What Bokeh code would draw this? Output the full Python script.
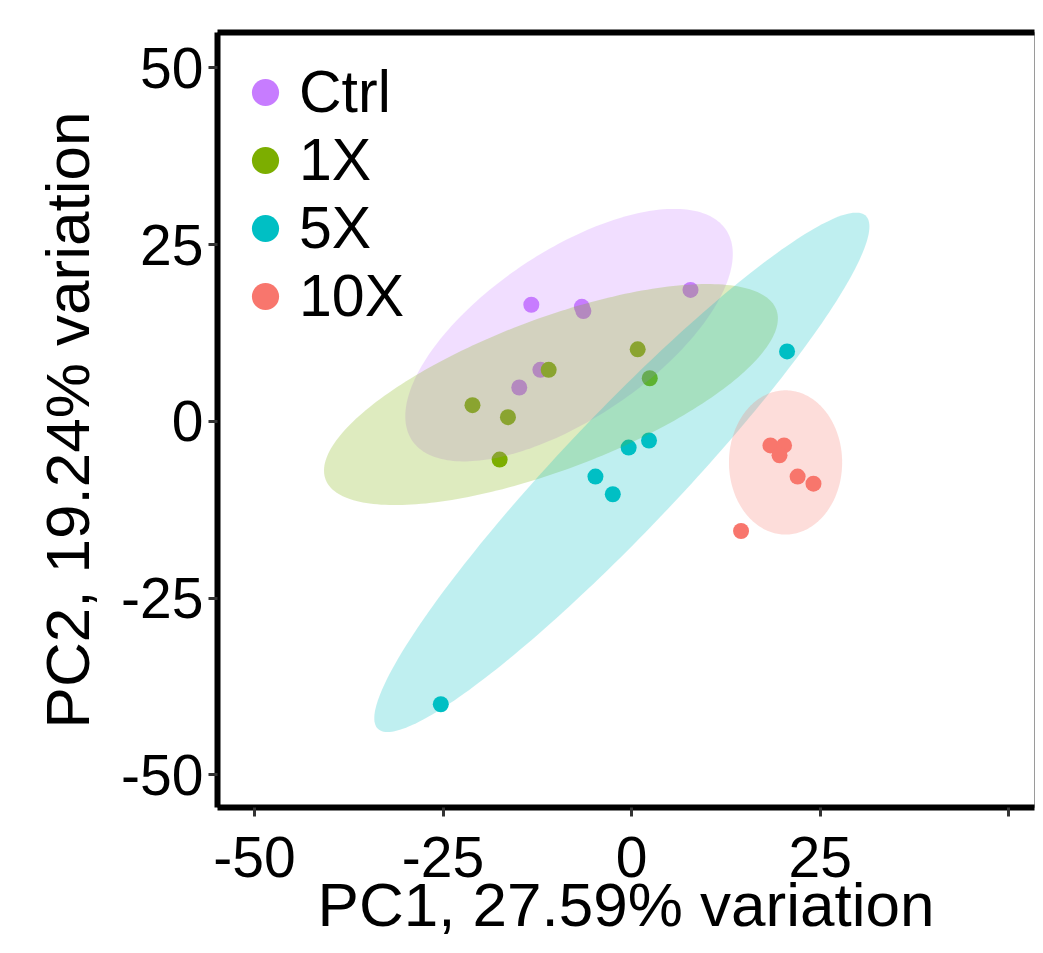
import numpy as np
from bokeh.plotting import figure
from bokeh.models import Range1d, FixedTicker, LinearAxis, Legend, LegendItem
from bokeh.embed import file_html
from bokeh.resources import INLINE

# ---------------- data ----------------
groups = ["Ctrl", "1X", "5X", "10X"]
colors = ["#C77CFF", "#7CAE00", "#00BFC4", "#F8766D"]

ctrl_pc1 = [-13.3, -6.4, -6.6, 7.8, -12.1, -14.9]
ctrl_pc2 = [16.5, 15.6, 16.2, 18.6, 7.3, 4.8]
x1_pc1 = [-21.1, -16.4, -11.0, 0.8, 2.4, -17.5]
x1_pc2 = [2.3, 0.6, 7.3, 10.2, 6.1, -5.4]
x5_pc1 = [20.6, -0.4, 2.3, -4.8, -2.5, -25.3]
x5_pc2 = [9.9, -3.7, -2.7, -7.8, -10.3, -40.0]
x10_pc1 = [18.4, 20.2, 19.6, 22.0, 24.1, 14.5]
x10_pc2 = [-3.4, -3.4, -4.8, -7.8, -8.8, -15.5]

# confidence ellipses (centre, semi-axes, angle in degrees) per group
ell_cx = [-8.3, -10.7, -1.3, 20.4]
ell_cy = [12.2, 3.8, -7.2, -5.8]
ell_a = [25.6, 32.2, 48.6, 10.2]
ell_b = [11.6, 10.6, 8.0, 7.5]
ell_angle = [36.5, 22.2, 48.4, 90.0]

ticks = [-50, -25, 0, 25, 50]
x_tick_labels = ["-50", "-25", "0", "25", ""]
y_tick_labels = ["-50", "-25", "0", "25", "50"]
x_title = "PC1, 27.59% variation"
y_title = "PC2, 19.24% variation"

pcs = [(ctrl_pc1, ctrl_pc2), (x1_pc1, x1_pc2), (x5_pc1, x5_pc2), (x10_pc1, x10_pc2)]

FONT = "Liberation Sans"

p = figure(width=1035, height=945,
           x_range=Range1d(-54.9, 53.4), y_range=Range1d(-54.6, 55.0),
           output_backend="svg", toolbar_location=None,
           min_border_left=217, min_border_right=1,
           min_border_top=32, min_border_bottom=138)
p.background_fill_color = "white"
p.border_fill_color = "white"
p.grid.visible = False
p.outline_line_color = "#9a9a9a"
p.outline_line_width = 1

# points first (ellipses drawn on top of them)
point_renderers = []
for (xs, ys), col in zip(pcs, colors):
    r = p.scatter(xs, ys, size=16, fill_color=col, line_color=None)
    point_renderers.append(r)

t = np.linspace(0, 2 * np.pi, 240)
for cx, cy, a, b, ang, col in zip(ell_cx, ell_cy, ell_a, ell_b, ell_angle, colors):
    th = np.deg2rad(ang)
    ex = cx + a * np.cos(t) * np.cos(th) - b * np.sin(t) * np.sin(th)
    ey = cy + a * np.cos(t) * np.sin(th) + b * np.sin(t) * np.cos(th)
    p.patch(ex, ey, fill_color=col, fill_alpha=0.25, line_color=None)

# axes
for ax in (p.xaxis[0], p.yaxis[0]):
    ax.ticker = FixedTicker(ticks=ticks)
    ax.axis_line_width = 6
    ax.axis_line_color = "black"
    ax.major_tick_out = 9
    ax.major_tick_in = 0
    ax.major_tick_line_width = 3
    ax.major_tick_line_color = "#333333"
    ax.minor_tick_line_color = None
    ax.major_label_text_font = FONT
    ax.major_label_text_font_size = "57px"
    ax.major_label_text_color = "black"
    ax.axis_label_text_font = FONT
    ax.axis_label_text_font_size = "62px"
    ax.axis_label_text_font_style = "normal"
    ax.axis_label_text_color = "black"

p.xaxis[0].major_label_overrides = {tk: lb for tk, lb in zip(ticks, x_tick_labels)}
p.yaxis[0].major_label_overrides = {tk: lb for tk, lb in zip(ticks, y_tick_labels)}
p.xaxis[0].axis_label = x_title
p.yaxis[0].axis_label = y_title
p.xaxis[0].major_label_standoff = 20
p.yaxis[0].major_label_standoff = 5
p.xaxis[0].axis_label_standoff = -10
p.yaxis[0].axis_label_standoff = 16

top_axis = LinearAxis(ticker=FixedTicker(ticks=[]), axis_line_width=6,
                      axis_line_color="black", major_tick_line_color=None,
                      minor_tick_line_color=None, major_label_text_font_size="0px")
p.add_layout(top_axis, "above")

legend = Legend(items=[LegendItem(label=g, renderers=[r]) for g, r in zip(groups, point_renderers)],
                location=(14, 477), orientation="vertical",
                glyph_width=68, glyph_height=68, label_standoff=0, spacing=0,
                padding=0, margin=0, border_line_color=None, background_fill_alpha=0,
                label_text_font=FONT, label_text_font_size="59px", label_text_color="black")
p.add_layout(legend, "center")

open("out.html", "w").write(file_html(p, INLINE))
